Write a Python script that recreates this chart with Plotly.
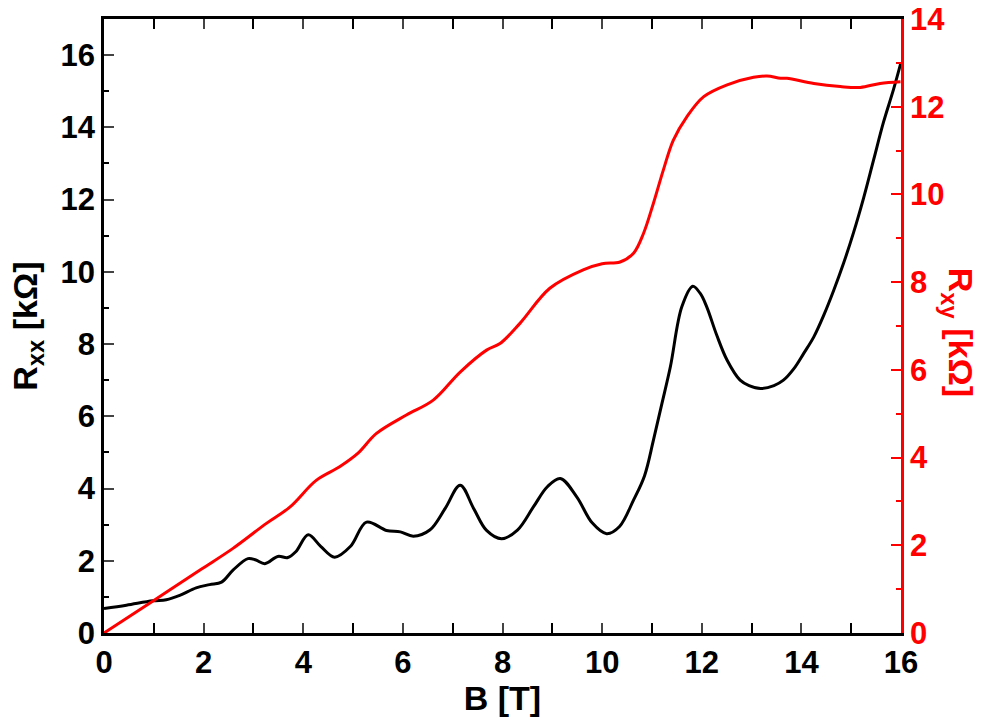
import plotly.graph_objects as go

# Rxx (black, left axis) in kOhm vs B in T
b_xx = [0.0, 0.45, 0.98, 1.25, 1.52, 1.85, 2.12, 2.36, 2.59, 2.89, 3.05, 3.23, 3.49, 3.69, 3.85,
        4.10, 4.35, 4.63, 4.95, 5.27, 5.67, 5.95, 6.21, 6.54, 6.85, 7.15, 7.42, 7.68, 7.98,
        8.30, 8.62, 8.90, 9.16, 9.49, 9.80, 10.09, 10.35, 10.63, 10.85, 11.03, 11.20, 11.37,
        11.60, 11.82, 11.97, 12.10, 12.30, 12.51, 12.77, 12.95, 13.18, 13.45, 13.64, 13.85,
        14.05, 14.25, 14.45, 14.65, 14.85, 15.05, 15.25, 15.45, 15.65, 15.85, 16.0]
r_xx = [0.68, 0.77, 0.89, 0.92, 1.04, 1.25, 1.34, 1.41, 1.74, 2.06, 2.02, 1.92, 2.12, 2.09, 2.25,
        2.72, 2.40, 2.10, 2.40, 3.07, 2.84, 2.80, 2.68, 2.85, 3.45, 4.09, 3.45, 2.84, 2.61,
        2.85, 3.49, 4.05, 4.28, 3.77, 3.05, 2.75, 2.95, 3.68, 4.35, 5.34, 6.35, 7.37,
        9.03, 9.60, 9.40, 9.03, 8.25, 7.55, 7.00, 6.85, 6.77, 6.85, 7.00, 7.32,
        7.75, 8.20, 8.80, 9.49, 10.25, 11.10, 12.05, 13.10, 14.15, 15.05, 15.80]

# Rxy (red, right axis) in kOhm vs B in T
b_xy = [0.0, 1.0, 1.92, 2.59, 3.26, 3.73, 4.26, 4.73, 5.10, 5.47, 6.07, 6.61, 7.15, 7.68,
        7.95, 8.35, 8.95, 9.62, 10.00, 10.36, 10.63, 10.83, 11.03, 11.23, 11.43, 11.70,
        12.04, 12.51, 13.04, 13.31, 13.58, 13.71, 14.25, 14.78, 15.18, 15.58, 15.99]
r_xy = [0.0, 0.74, 1.43, 1.93, 2.50, 2.87, 3.48, 3.79, 4.10, 4.55, 4.97, 5.31, 5.95, 6.45,
        6.60, 7.06, 7.86, 8.28, 8.42, 8.46, 8.66, 9.11, 9.80, 10.56, 11.24, 11.77,
        12.23, 12.50, 12.67, 12.70, 12.65, 12.65, 12.53, 12.46, 12.44, 12.53, 12.57]

x_ticks = [0, 2, 4, 6, 8, 10, 12, 14, 16]
y_ticks = [0, 2, 4, 6, 8, 10, 12, 14, 16]
y2_ticks = [0, 2, 4, 6, 8, 10, 12, 14]

FONT = "Liberation Sans, Arial, sans-serif"
TICKFONT = 31
TITLEFONT = 34

fig = go.Figure()
fig.add_trace(go.Scatter(x=b_xx, y=r_xx, mode="lines",
                         line=dict(color="black", width=3, shape="spline", smoothing=1.0),
                         showlegend=False))
fig.add_trace(go.Scatter(x=b_xy, y=r_xy, mode="lines", yaxis="y2",
                         line=dict(color="#ff0000", width=3, shape="spline", smoothing=1.0),
                         showlegend=False))

fig.update_layout(
    width=982, height=717,
    margin=dict(l=104, r=81, t=19, b=84),
    plot_bgcolor="white", paper_bgcolor="white",
    font=dict(family=FONT, size=TICKFONT, color="black"),
    xaxis=dict(range=[0, 16], tickvals=x_ticks, ticks="inside", ticklen=10, tickwidth=2,
               showline=True, linewidth=2.5, linecolor="black", mirror="allticks",
               showgrid=False, zeroline=False, automargin=False,
               tickfont=dict(family=FONT, size=TICKFONT, color="black", weight="bold"),
               minor=dict(dtick=1, ticks="inside", ticklen=5, tickwidth=2, tickcolor="black",
                          showgrid=False),
               title=dict(text="<b>B [T]</b>", font=dict(family=FONT, size=TITLEFONT), standoff=0)),
    yaxis=dict(range=[0, 17], tickvals=y_ticks, ticks="inside", ticklen=10, tickwidth=2,
               showline=True, linewidth=2.5, linecolor="black",
               showgrid=False, zeroline=False, automargin=False,
               tickfont=dict(family=FONT, size=TICKFONT, color="black", weight="bold"),
               minor=dict(dtick=1, ticks="inside", ticklen=5, tickwidth=2, tickcolor="black",
                          showgrid=False)),
    yaxis2=dict(range=[0, 14], tickvals=y2_ticks, ticks="inside", ticklen=10, tickwidth=2,
                overlaying="y", side="right", anchor="x", automargin=False,
                showline=True, linewidth=2.5, linecolor="#ff0000", tickcolor="#ff0000",
                showgrid=False, zeroline=False,
                tickfont=dict(family=FONT, size=TICKFONT, color="#ff0000", weight="bold"),
                minor=dict(dtick=1, ticks="inside", ticklen=5, tickwidth=2, tickcolor="#ff0000",
                           showgrid=False)),
    annotations=[
        dict(text="<b>R<sub>xx</sub> [kΩ]</b>", xref="paper", yref="paper",
             x=-0.097, y=0.5, xanchor="center", yanchor="middle", textangle=-90,
             showarrow=False, font=dict(family=FONT, size=TITLEFONT, color="black")),
        dict(text="<b>R<sub>xy</sub> [kΩ]</b>", xref="paper", yref="paper",
             x=1.072, y=0.49, xanchor="center", yanchor="middle", textangle=90,
             showarrow=False, font=dict(family=FONT, size=TITLEFONT, color="#ff0000")),
    ],
)

fig.write_html("out.html")
